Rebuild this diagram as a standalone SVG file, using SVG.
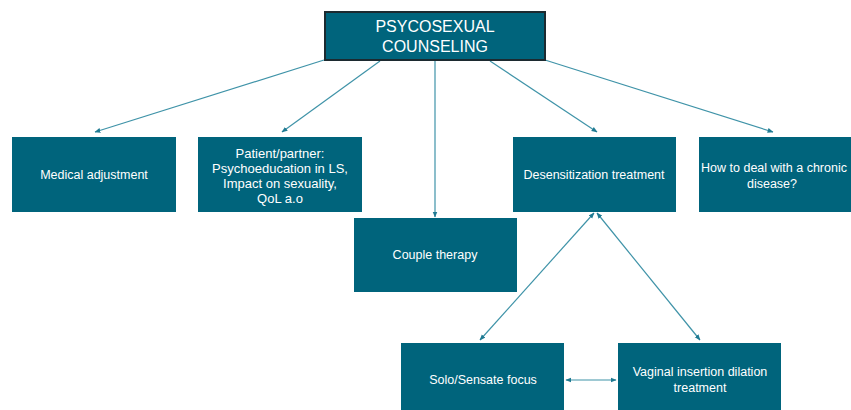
<svg xmlns="http://www.w3.org/2000/svg" width="851" height="410" viewBox="0 0 851 410">
<style>
.box{fill:#00647c;}
.top{fill:#00647c;stroke:#1c2a30;stroke-width:2;}
.t{font-family:"Liberation Sans",Arial,sans-serif;font-size:12.5px;fill:#ffffff;text-anchor:middle;}
.tp{font-family:"Liberation Sans",Arial,sans-serif;font-size:13px;fill:#ffffff;text-anchor:middle;}
.tt{font-family:"Liberation Sans",Arial,sans-serif;font-size:16px;fill:#ffffff;text-anchor:middle;}
.c{stroke:#3f93a8;stroke-width:1.2;fill:none;marker-end:url(#ah);}
.d{stroke:#3f93a8;stroke-width:1.2;fill:none;marker-end:url(#ah);marker-start:url(#ahs);}
</style>
<defs>
<marker id="ah" viewBox="0 0 10 10" refX="9" refY="5" markerWidth="6" markerHeight="6" orient="auto" markerUnits="userSpaceOnUse">
<path d="M0,1 L10,5 L0,9 z" fill="#1f7a92"/>
</marker>
<marker id="ahs" viewBox="0 0 10 10" refX="1" refY="5" markerWidth="6" markerHeight="6" orient="auto" markerUnits="userSpaceOnUse">
<path d="M10,1 L0,5 L10,9 z" fill="#1f7a92"/>
</marker>
</defs>
<rect width="851" height="410" fill="#ffffff"/>
<g id="connectors">
<line class="c" x1="324" y1="60" x2="95" y2="132"/>
<line class="c" x1="380" y1="61" x2="282" y2="132"/>
<line class="c" x1="435" y1="61" x2="435" y2="217"/>
<line class="c" x1="490" y1="61" x2="597" y2="132"/>
<line class="c" x1="545" y1="60" x2="773" y2="132"/>
<line class="d" x1="594" y1="213" x2="480" y2="340"/>
<line class="d" x1="597" y1="213" x2="700" y2="340"/>
<line class="d" x1="566" y1="380" x2="616" y2="380"/>
</g>
<g id="n-top">
<rect class="top" x="325" y="12" width="220" height="48"/>
<text class="tt" x="435" y="32">PSYCOSEXUAL</text>
<text class="tt" x="435" y="52">COUNSELING</text>
</g>
<g id="n-medical">
<rect class="box" x="12" y="137" width="164" height="75"/>
<text class="t" x="94" y="179">Medical adjustment</text>
</g>
<g id="n-patient">
<rect class="box" x="198" y="137" width="164" height="75"/>
<text class="tp" x="280" y="158">Patient/partner:</text>
<text class="tp" x="280" y="173">Psychoeducation in LS,</text>
<text class="tp" x="280" y="188">Impact on sexuality,</text>
<text class="tp" x="280" y="203">QoL a.o</text>
</g>
<g id="n-desens">
<rect class="box" x="513" y="137" width="163" height="75"/>
<text class="t" x="594" y="179">Desensitization treatment</text>
</g>
<g id="n-chronic">
<rect class="box" x="699" y="137" width="164" height="75"/>
<text class="t" x="774" y="172">How to deal with a chronic</text>
<text class="t" x="772" y="188">disease?</text>
</g>
<g id="n-couple">
<rect class="box" x="354" y="218" width="163" height="74"/>
<text class="t" x="435" y="259">Couple therapy</text>
</g>
<g id="n-solo">
<rect class="box" x="401" y="343" width="163" height="75"/>
<text class="t" x="483" y="384">Solo/Sensate focus</text>
</g>
<g id="n-vaginal">
<rect class="box" x="618" y="343" width="163" height="75"/>
<text class="t" x="700" y="376">Vaginal insertion dilation</text>
<text class="t" x="700" y="392">treatment</text>
</g>
</svg>
